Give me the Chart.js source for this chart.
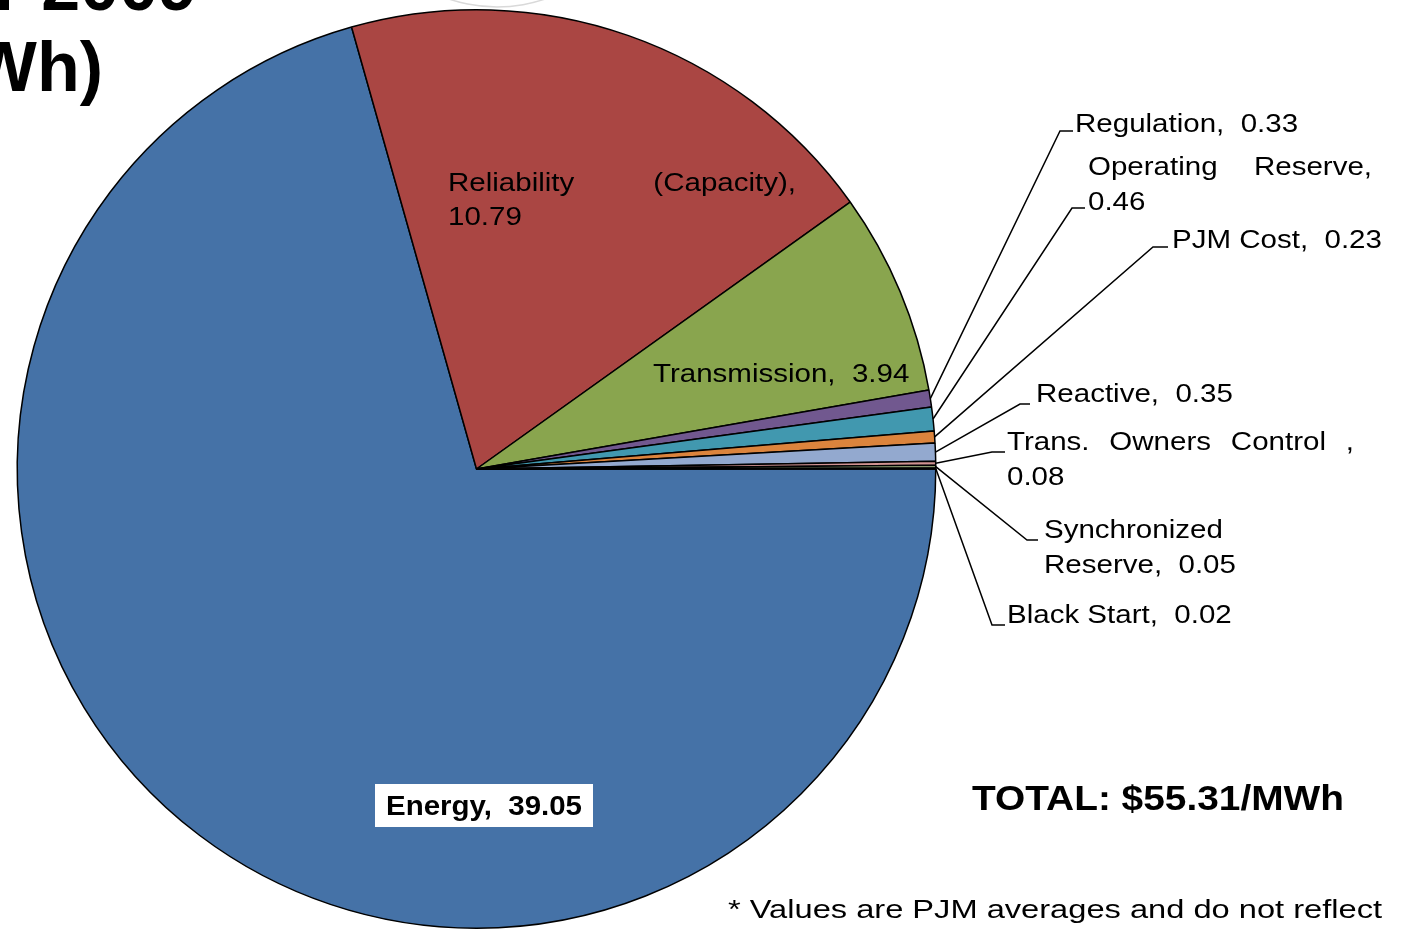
<!DOCTYPE html>
<html><head><meta charset="utf-8">
<script src="https://cdn.jsdelivr.net/npm/chart.js@4.4.1/dist/chart.umd.min.js"></script>
<style>html,body{margin:0;padding:0;background:#fff;}#wrap{width:1401px;height:929px;position:relative;}</style>
</head><body><div id="wrap"><canvas id="c" width="1401" height="929"></canvas></div>
<script>
const categories = ['Energy','Reliability (Capacity)','Transmission','Regulation','Operating Reserve','PJM Cost','Reactive','Trans. Owners Control','Synchronized Reserve','Black Start'];
const values = [39.05,10.79,3.94,0.33,0.46,0.23,0.35,0.08,0.05,0.02];
const colors = ['#4572A7','#AA4643','#89A54E','#71588F','#4198AF','#DB843D','#93A9CF','#D19392','#B9CD96','#A99BBD'];
const titleLines = ['Total Price of Wholesale Power for 2009','($/MWh)'];
const totalText = 'TOTAL: $55.31/MWh';
const footnote = '* Values are PJM averages and do not reflect';

const F = '"Liberation Sans", Arial, sans-serif';
const fmt = v => v.toFixed(2);
const SX = 1.135; // horizontal stretch of label text

const outside = [
  {i:3, lines:[[categories[3]+',  '+fmt(values[3])]], x:1075, y:125, ex:1060, ey:131, hx:1073},
  {i:4, lines:[['Operating','Reserve,'],[fmt(values[4])]], x:1088, y:168, ex:1072, ey:208, hx:1085, jw:284},
  {i:5, lines:[[categories[5]+',  '+fmt(values[5])]], x:1172, y:241, ex:1153, ey:247, hx:1168},
  {i:6, lines:[[categories[6]+',  '+fmt(values[6])]], x:1036, y:395, ex:1020, ey:404, hx:1030},
  {i:7, lines:[['Trans.','Owners','Control',','],[fmt(values[7])]], x:1007, y:443, ex:992, ey:452, hx:1005, jw:347},
  {i:8, lines:[['Synchronized'],['Reserve,  '+fmt(values[8])]], x:1044, y:531, ex:1027, ey:540, hx:1038},
  {i:9, lines:[[categories[9]+',  '+fmt(values[9])]], x:1007, y:616, ex:992, ey:625, hx:1005}
];

function ft(ctx, text, x, y, sx){
  ctx.save(); ctx.translate(x, y); ctx.scale(sx, 1); ctx.fillText(text, 0, 0); ctx.restore();
}
function drawLine(ctx, words, x, y, jw){
  if(words.length===1 || !jw){ ft(ctx, words.join(' '), x, y, SX); return; }
  let tw = 0; words.forEach(w=>tw+=ctx.measureText(w).width*SX);
  const gap = (jw - tw)/(words.length-1);
  let cx = x;
  words.forEach(w=>{ ft(ctx, w, cx, y, SX); cx += ctx.measureText(w).width*SX + gap; });
}

const labelPlugin = {
  id:'labels',
  afterDraw(chart){
    const ctx = chart.ctx;
    const meta = chart.getDatasetMeta(0);
    ctx.save();
    // faint decorative arc at the top edge
    ctx.strokeStyle='#d9d9d9'; ctx.lineWidth=1.5;
    ctx.beginPath(); ctx.arc(497, -141, 148, 0.2, Math.PI-0.2); ctx.stroke();

    // title (partially off-canvas)
    ctx.fillStyle='#000';
    ctx.font = 'bold 70px '+F;
    ctx.textAlign='right'; ctx.textBaseline='alphabetic';
    ctx.fillText(titleLines[0], 197, 10);
    ctx.fillText(titleLines[1], 103, 91);

    // leader lines + outside labels
    ctx.strokeStyle='#000'; ctx.lineWidth=1.5;
    ctx.font = '26px '+F;
    ctx.textAlign='left'; ctx.textBaseline='middle';
    outside.forEach(o=>{
      const el = meta.data[o.i];
      const a = (el.startAngle+el.endAngle)/2;
      const r = el.outerRadius;
      const sx = el.x + Math.cos(a)*r, sy = el.y + Math.sin(a)*r;
      ctx.beginPath(); ctx.moveTo(sx,sy); ctx.lineTo(o.ex,o.ey); ctx.lineTo(o.hx,o.ey); ctx.stroke();
      o.lines.forEach((ln,k)=>drawLine(ctx, ln, o.x, o.y + k*34.5, o.jw));
    });

    // inside labels
    drawLine(ctx, ['Reliability','(Capacity),'], 448, 184, 348);
    ft(ctx, fmt(values[1]), 448, 218, SX);
    ft(ctx, categories[2]+',  '+fmt(values[2]), 653, 375, SX);

    // Energy label with white box
    ctx.fillStyle='#fff'; ctx.fillRect(375,784,218,43);
    ctx.fillStyle='#000'; ctx.font='bold 28px '+F;
    const et = categories[0]+',  '+fmt(values[0]);
    ft(ctx, et, 386, 807, 196/ctx.measureText(et).width);

    // total
    ctx.textBaseline='alphabetic';
    ctx.font='bold 35px '+F;
    ft(ctx, totalText, 972, 810, 372/ctx.measureText(totalText).width);

    // footnote (condensed)
    ctx.font='26px '+F;
    ft(ctx, footnote, 728, 918, 654/ctx.measureText(footnote).width);
    ctx.restore();
  }
};

new Chart(document.getElementById('c'), {
  type:'pie',
  data:{ labels:categories, datasets:[{ data:values, backgroundColor:colors, borderColor:'#000', borderWidth:1.5 }] },
  options:{
    responsive:false, animation:false, rotation:90,
    layout:{ padding:{ left:16, right:464, top:9, bottom:0 } },
    plugins:{ legend:{display:false}, tooltip:{enabled:false} }
  },
  plugins:[labelPlugin]
});
</script></body></html>
